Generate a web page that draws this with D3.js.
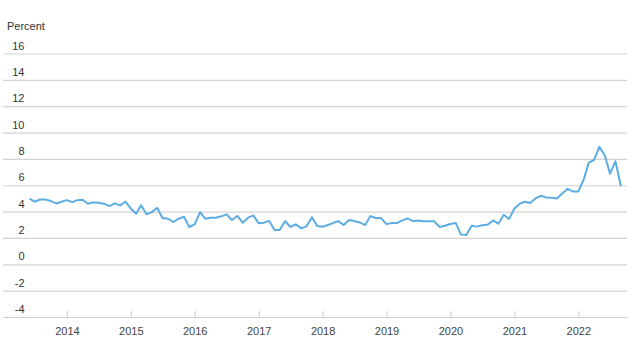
<!DOCTYPE html>
<html>
<head>
<meta charset="utf-8">
<script src="https://cdn.jsdelivr.net/npm/d3@7"></script>
<style>
  body { margin: 0; background: #fff; }
  text { font-family: "Liberation Sans", Arial, sans-serif; }
</style>
</head>
<body>
<svg id="chart"></svg>
<script>
// monthly series, June 2013 -> September 2022
const startMonth = new Date(2013, 5, 1);
const values = [
  4.98, 4.75, 4.92, 4.92, 4.80, 4.62, 4.75,                                  // 2013 Jun-Dec
  4.87, 4.72, 4.87, 4.90, 4.60, 4.70, 4.67, 4.60, 4.42, 4.62, 4.47, 4.75,   // 2014
  4.24, 3.84, 4.49, 3.80, 3.96, 4.29, 3.51, 3.46, 3.21, 3.46, 3.61, 2.83,   // 2015
  3.03, 3.96, 3.46, 3.54, 3.54, 3.64, 3.79, 3.36, 3.67, 3.16, 3.54, 3.71,   // 2016
  3.11, 3.16, 3.30, 2.60, 2.60, 3.28, 2.83, 3.03, 2.73, 2.88, 3.58, 2.90,   // 2017
  2.85, 2.98, 3.13, 3.28, 2.98, 3.36, 3.28, 3.18, 2.98, 3.66, 3.51, 3.51,   // 2018
  3.05, 3.14, 3.13, 3.33, 3.48, 3.28, 3.33, 3.26, 3.26, 3.26, 2.83, 2.93,   // 2019
  3.06, 3.13, 2.27, 2.22, 2.93, 2.86, 2.96, 3.01, 3.33, 3.08, 3.76, 3.44,   // 2020
  4.24, 4.60, 4.75, 4.65, 5.00, 5.20, 5.07, 5.05, 5.00, 5.38, 5.73, 5.53,   // 2021
  5.53, 6.44, 7.70, 7.93, 8.91, 8.28, 6.87, 7.83, 5.93                      // 2022 Jan-Sep
];
const yTicks = [-4, -2, 0, 2, 4, 6, 8, 10, 12, 14, 16];
const xTickYears = [2014, 2015, 2016, 2017, 2018, 2019, 2020, 2021, 2022];
const yTitle = "Percent";

const width = 641, height = 348;
const margin = { top: 53.5, right: 14, bottom: 31, left: 3 };

const data = values.map((v, i) => ({ date: d3.timeMonth.offset(startMonth, i), value: v }));

const svg = d3.select("#chart")
  .attr("width", width)
  .attr("height", height);

const x = d3.scaleTime()
  .domain([new Date(2013, 0, 1), new Date(2022, 9, 6)])
  .range([margin.left, width - margin.right]);

const y = d3.scaleLinear()
  .domain([-4, 16])
  .range([height - margin.bottom, margin.top]);

// horizontal grid + y labels sitting just above each line
const yAxis = svg.append("g")
  .attr("transform", `translate(${margin.left},0)`)
  .call(d3.axisLeft(y)
    .tickValues(yTicks)
    .tickSize(-(width - margin.left - margin.right))
    .tickFormat(d => String(d)));   // plain hyphen for negatives

yAxis.select(".domain").remove();
yAxis.selectAll(".tick line")
  .attr("stroke", "#d3d3d3")
  .attr("stroke-width", 1.2);
yAxis.selectAll(".tick text")
  .attr("x", 21.5)
  .attr("y", -4.5)
  .attr("dy", 0)
  .attr("text-anchor", "end")
  .attr("fill", "#333")
  .attr("font-size", "11px");

// bottom axis, ticks pointing up
const xAxis = svg.append("g")
  .attr("transform", `translate(0,${height - margin.bottom})`)
  .call(d3.axisBottom(x)
    .tickValues(xTickYears.map(yr => new Date(yr, 0, 1)))
    .tickSize(-6)
    .tickSizeOuter(0)
    .tickFormat(d3.timeFormat("%Y")));

xAxis.select(".domain")
  .attr("stroke", "#cccccc")
  .attr("stroke-width", 1.2);
xAxis.selectAll(".tick line")
  .attr("stroke", "#cccccc");
xAxis.selectAll(".tick text")
  .attr("y", 17.5)
  .attr("dy", 0)
  .attr("fill", "#444")
  .attr("font-size", "11px");

svg.append("text")
  .attr("x", 7)
  .attr("y", 30)
  .attr("fill", "#333")
  .attr("font-size", "11px")
  .text(yTitle);

const line = d3.line()
  .x(d => x(d.date))
  .y(d => y(d.value));

svg.append("path")
  .datum(data)
  .attr("fill", "none")
  .attr("stroke", "#5dade2")
  .attr("stroke-width", 2)
  .attr("stroke-linejoin", "round")
  .attr("d", line);
</script>
</body>
</html>
